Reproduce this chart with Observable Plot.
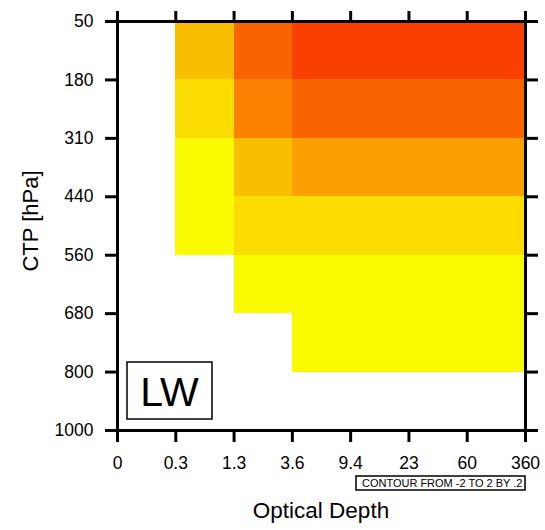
<!DOCTYPE html>
<html>
<head>
<meta charset="utf-8">
<script src="https://cdn.jsdelivr.net/npm/d3@7"></script>
<script src="https://cdn.jsdelivr.net/npm/@observablehq/plot@0.6"></script>
<style>
  html, body { margin: 0; padding: 0; background: #fff; }
  #chart { position: relative; width: 545px; height: 530px; }
  svg { font-family: "Liberation Sans", Arial, Helvetica, sans-serif; }
</style>
</head>
<body>
<div id="chart"></div>
<script>
// Optical depth bin edges (x) and cloud-top-pressure bin edges (y), as tick labels
const tauEdges = ["0", "0.3", "1.3", "3.6", "9.4", "23", "60", "360"];
const ctpEdges = ["50", "180", "310", "440", "560", "680", "800", "1000"];

// Cell values, one array per CTP bin (top to bottom), one value per tau bin; null = no data
const row50_180   = [null, 0.5, 1.1, 1.3, 1.3, 1.3, 1.3];
const row180_310  = [null, 0.3, 0.9, 1.1, 1.1, 1.1, 1.1];
const row310_440  = [null, 0.1, 0.5, 0.7, 0.7, 0.7, 0.7];
const row440_560  = [null, 0.1, 0.3, 0.3, 0.3, 0.3, 0.3];
const row560_680  = [null, null, 0.1, 0.1, 0.1, 0.1, 0.1];
const row680_800  = [null, null, null, 0.1, 0.1, 0.1, 0.1];
const row800_1000 = [null, null, null, null, null, null, null];

// Contour levels and fill colours
const levels = [0.2, 0.4, 0.6, 0.8, 1.0, 1.2];
const fills = ["#FAFA00", "#FADC00", "#FABE00", "#FAA000", "#FA8200", "#FA6400", "#FA4000"];

const rows = [row50_180, row180_310, row310_440, row440_560, row560_680, row680_800, row800_1000];
const cells = [];
rows.forEach((r, j) => r.forEach((v, i) => {
  if (v != null) cells.push({i, j, v});
}));

const W = 545, H = 530;
const ml = 117, mr = 20, mt = 21, mb = 100;
const font = '"Liberation Sans", Arial, Helvetica, sans-serif';

const plot = Plot.plot({
  width: W,
  height: H,
  marginLeft: ml,
  marginRight: mr,
  marginTop: mt,
  marginBottom: mb,
  style: {fontFamily: font, fontSize: "17.5px", color: "#000", background: "#fff"},
  x: {type: "linear", domain: [0, tauEdges.length - 1], label: null},
  y: {type: "linear", domain: [0, ctpEdges.length - 1], reverse: true, label: null},
  color: {type: "threshold", domain: levels, range: fills},
  marks: [
    Plot.rect(cells, {x1: "i", x2: d => d.i + 1, y1: "j", y2: d => d.j + 1, fill: "v", shapeRendering: "crispEdges"}),
    Plot.axisX({anchor: "bottom", ticks: d3.range(tauEdges.length), tickFormat: i => tauEdges[i], tickSize: 12, tickPadding: 14, strokeWidth: 3, fontSize: 17.5, label: null}),
    Plot.axisX({anchor: "top", ticks: d3.range(tauEdges.length), tickFormat: () => "", tickSize: 11, strokeWidth: 3, label: null}),
    Plot.axisY({anchor: "left", ticks: d3.range(ctpEdges.length), tickFormat: i => ctpEdges[i], tickSize: 12, tickPadding: 12, strokeWidth: 3, fontSize: 17.5, label: null}),
    Plot.axisY({anchor: "right", ticks: d3.range(ctpEdges.length), tickFormat: () => "", tickSize: 12, strokeWidth: 3, label: null}),
    Plot.frame({stroke: "#000", strokeWidth: 3})
  ]
});

document.getElementById("chart").appendChild(plot);

const svg = d3.select(plot);

// Axis titles
svg.append("text")
  .attr("x", ml + (W - ml - mr) / 2).attr("y", 518)
  .attr("text-anchor", "middle").attr("font-size", 22.5).attr("font-family", font)
  .attr("fill", "#000").text("Optical Depth");
svg.append("text")
  .attr("transform", `translate(38, 221) rotate(-90)`)
  .attr("text-anchor", "middle").attr("font-size", 22).attr("font-family", font)
  .attr("fill", "#000").text("CTP [hPa]");

// "LW" label box
svg.append("rect").attr("x", 127).attr("y", 362).attr("width", 85).attr("height", 57)
  .attr("fill", "#fff").attr("stroke", "#000").attr("stroke-width", 1.5);
svg.append("text").attr("x", 169.5).attr("y", 406)
  .attr("text-anchor", "middle").attr("font-size", 41).attr("font-family", font)
  .attr("fill", "#000").text("LW");

// Contour info box
svg.append("rect").attr("x", 356).attr("y", 476).attr("width", 169).attr("height", 14)
  .attr("fill", "#fff").attr("stroke", "#000").attr("stroke-width", 1.5);
svg.append("text").attr("x", 522.5).attr("y", 487)
  .attr("text-anchor", "end").attr("font-size", 11).attr("font-family", font)
  .attr("fill", "#000").text("CONTOUR FROM -2 TO 2 BY .2");
</script>
</body>
</html>
